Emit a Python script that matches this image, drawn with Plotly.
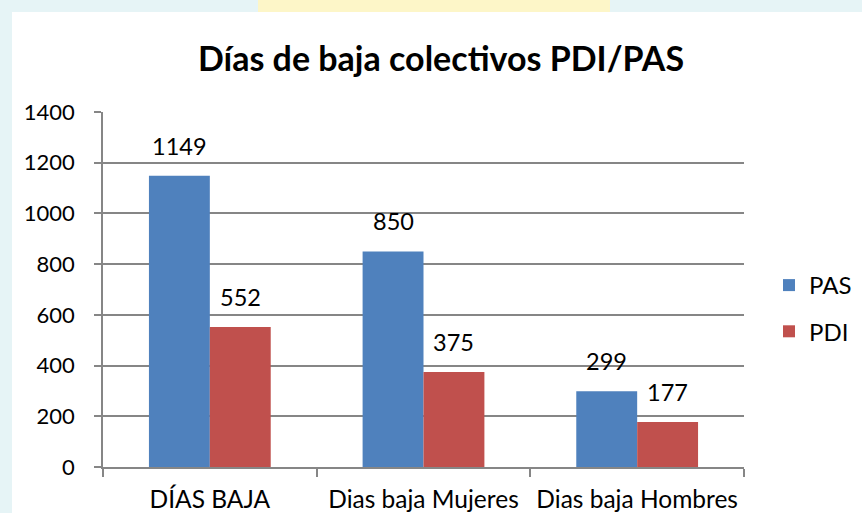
import plotly.graph_objects as go

categories = ["DÍAS BAJA", "Dias baja Mujeres", "Dias baja Hombres"]
pas_values = [1149, 850, 299]
pdi_values = [552, 375, 177]
y_ticks = [0, 200, 400, 600, 800, 1000, 1200, 1400]

FONT = "Lato, Carlito, Calibri, sans-serif"
W, H = 862, 513
AX_L, AX_R, AX_T, AX_B = 103, 744, 112, 467  # pixels of the plot area
L, R, T, B = AX_L, W - AX_R, AX_T, H - AX_B
pw, ph = AX_R - AX_L, AX_B - AX_T
BAR_PX = (pw / 3) * (1 - 0.43) / 2


def px_x(p):
    return (p - AX_L) / pw


def px_y(p):
    return (AX_B - p) / ph


fig = go.Figure()
fig.add_trace(go.Bar(name="PAS", x=categories, y=pas_values, marker_color="#4F81BD",
                     marker_line_width=0, legendgroup="a"))
fig.add_trace(go.Bar(name="PDI", x=categories, y=pdi_values, marker_color="#C0504D",
                     marker_line_width=0, legendgroup="b"))

annotations = []
for series, shift in ((pas_values, -BAR_PX / 2), (pdi_values, BAR_PX / 2)):
    for cat, val in zip(categories, series):
        annotations.append(dict(x=cat, y=val, xref="x", yref="y", text=str(val),
                                showarrow=False, xshift=shift, yshift=14,
                                yanchor="bottom", xanchor="center",
                                font=dict(size=23.5, family=FONT, color="#000000")))

fig.update_layout(
    width=W, height=H,
    margin=dict(l=L, r=R, t=T, b=B, autoexpand=False),
    paper_bgcolor="#e6f4f6",
    plot_bgcolor="rgba(0,0,0,0)",
    barmode="group", bargap=0.43, bargroupgap=0,
    font=dict(family=FONT, size=23, color="#000000"),
    title=dict(text="<b>Días de baja colectivos PDI/PAS</b>", x=441 / W, xanchor="center",
               y=1 - 59 / H, yanchor="middle", font=dict(size=34, family=FONT)),
    showlegend=True,
    legend=dict(x=px_x(769), y=px_y(263), xanchor="left", yanchor="top",
                font=dict(size=24, family=FONT), bgcolor="rgba(0,0,0,0)",
                itemsizing="constant", tracegroupgap=12),
    xaxis=dict(type="category", tickson="boundaries", ticks="outside", ticklen=8,
               tickcolor="#868686", tickwidth=1.5, showline=True, linecolor="#868686", linewidth=1.5,
               showgrid=False, tickfont=dict(size=24.5, family=FONT), ticklabelstandoff=10,
               automargin=False),
    yaxis=dict(range=[0, 1400], tickvals=y_ticks, ticks="outside", ticklen=7,
               tickcolor="#868686", tickwidth=1.5, showline=True, linecolor="#868686", linewidth=1.5,
               showgrid=True, gridcolor="#868686", gridwidth=1.5, zeroline=False,
               tickfont=dict(size=22, family=FONT), ticklabelstandoff=15, automargin=False),
    annotations=annotations,
    shapes=[
        dict(type="rect", xref="paper", yref="paper", layer="below",
             x0=px_x(258), x1=px_x(610), y0=px_y(12), y1=px_y(0),
             fillcolor="#fdf6c8", line=dict(width=0)),
        dict(type="rect", xref="paper", yref="paper", layer="below",
             x0=px_x(12), x1=px_x(W + 20), y0=px_y(H + 20), y1=px_y(12),
             fillcolor="#ffffff", line=dict(width=0)),
    ],
)

fig.write_html("out.html", config={"displayModeBar": False},
               post_script="document.body.style.margin='0';document.body.style.overflow='hidden';")
